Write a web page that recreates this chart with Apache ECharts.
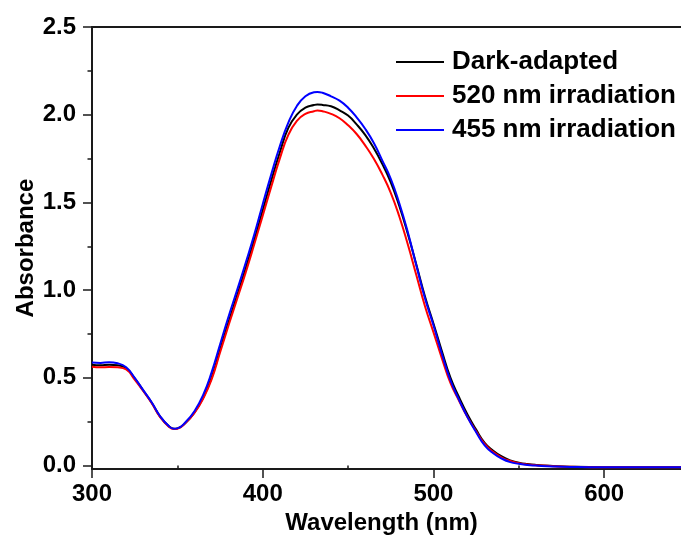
<!DOCTYPE html>
<html>
<head>
<meta charset="utf-8">
<script src="https://cdn.jsdelivr.net/npm/echarts@6/dist/echarts.min.js"></script>
<style>html,body{margin:0;padding:0;background:#fff}#c{width:681px;height:540px}</style>
</head>
<body>
<div id="c"></div>
<script>
const wavelengths = [300,305,310,315,320,325,330,335,340,345,348,350,355,360,365,370,375,380,385,390,395,400,405,410,415,420,425,430,432,435,440,445,450,455,460,465,470,475,480,485,490,495,500,505,510,515,520,525,530,535,540,545,550,555,560,570,580,600,645];
const darkAdapted = [0.575,0.572,0.575,0.572,0.555,0.497,0.428,0.358,0.278,0.224,0.21,0.212,0.246,0.303,0.385,0.50,0.66,0.82,0.97,1.125,1.285,1.455,1.625,1.785,1.925,2.0,2.04,2.055,2.058,2.056,2.048,2.025,1.995,1.945,1.885,1.81,1.72,1.615,1.48,1.32,1.145,0.965,0.81,0.65,0.50,0.39,0.29,0.205,0.13,0.085,0.052,0.03,0.017,0.009,0.004,-0.002,-0.006,-0.009,-0.01];
const irr520 = [0.564,0.56,0.562,0.56,0.548,0.49,0.425,0.355,0.275,0.222,0.208,0.21,0.245,0.30,0.38,0.49,0.645,0.80,0.95,1.10,1.26,1.425,1.59,1.75,1.885,1.965,2.005,2.02,2.024,2.02,2.005,1.98,1.94,1.89,1.825,1.75,1.66,1.555,1.42,1.26,1.085,0.91,0.76,0.61,0.47,0.37,0.275,0.195,0.123,0.078,0.046,0.026,0.014,0.006,0.002,-0.004,-0.007,-0.01,-0.01];
const irr455 = [0.587,0.585,0.589,0.583,0.56,0.50,0.43,0.36,0.28,0.225,0.21,0.212,0.25,0.31,0.40,0.53,0.69,0.85,1.0,1.155,1.315,1.49,1.66,1.82,1.955,2.05,2.105,2.128,2.13,2.125,2.105,2.08,2.04,1.985,1.92,1.84,1.74,1.635,1.495,1.33,1.14,0.955,0.80,0.635,0.485,0.375,0.275,0.19,0.115,0.07,0.04,0.02,0.01,0.003,0.0,-0.005,-0.008,-0.01,-0.01];
const seriesNames = ['Dark-adapted','520 nm irradiation','455 nm irradiation'];
const yTicks = [0,0.5,1.0,1.5,2.0,2.5];
const yMinorTicks = [0.25,0.75,1.25,1.75,2.25];
const xTicks = [300,400,500,600];
const xMinorTicks = [350,450,550];

const pair = arr => wavelengths.map((w,i)=>[w,arr[i]]);
const FONT = '"Liberation Sans", Arial, sans-serif';
const AX = '#1a1a1a';

const chart = echarts.init(document.getElementById('c'), null, {renderer:'canvas'});
chart.setOption({
  animation:false,
  backgroundColor:'#fff',
  grid:{left:92, right:0, top:27, bottom:69},
  legend:{
    data:seriesNames, orient:'vertical', left:391, top:44, padding:5,
    icon:'rect', itemWidth:48, itemHeight:2, itemGap:8,
    textStyle:{fontFamily:FONT, fontWeight:'bold', fontSize:26, color:'#000', lineHeight:25, padding:[0,0,0,3]}
  },
  xAxis:[{
    type:'value', min:300, max:645, position:'bottom',
    name:'Wavelength (nm)', nameLocation:'middle', nameGap:38,
    nameTextStyle:{fontFamily:FONT, fontWeight:'bold', fontSize:24, color:'#000', padding:[0,10,0,0]},
    axisLine:{show:true, onZero:false, lineStyle:{color:AX, width:2}},
    axisTick:{show:true, inside:false, length:9, lineStyle:{color:AX, width:1.5}, customValues:xTicks},
    axisLabel:{show:true, margin:13, fontFamily:FONT, fontWeight:'bold', fontSize:24, color:'#000', customValues:xTicks},
    splitLine:{show:false}
  },{
    type:'value', min:300, max:645, position:'bottom', gridIndex:0,
    axisLine:{show:false},
    axisTick:{show:true, inside:false, length:4.5, lineStyle:{color:AX, width:1.5}, customValues:xMinorTicks},
    axisLabel:{show:false}, splitLine:{show:false}
  },{
    type:'value', min:300, max:645, position:'top', gridIndex:0,
    axisLine:{show:true, onZero:false, lineStyle:{color:AX, width:2}},
    axisTick:{show:false}, axisLabel:{show:false}, splitLine:{show:false}
  }],
  yAxis:[{
    type:'value', min:-0.02, max:2.5, position:'left',
    name:'Absorbance', nameLocation:'middle', nameGap:54, nameRotate:90, nameMoveOverlap:false,
    nameTextStyle:{fontFamily:FONT, fontWeight:'bold', fontSize:24, color:'#000'},
    axisLine:{show:true, onZero:false, lineStyle:{color:AX, width:2}},
    axisTick:{show:true, inside:false, length:9, lineStyle:{color:AX, width:1.5}, customValues:yTicks},
    axisLabel:{show:true, margin:16, fontFamily:FONT, fontWeight:'bold', fontSize:24, color:'#000', customValues:yTicks, formatter:v=>Number(v).toFixed(1)},
    splitLine:{show:false}
  },{
    type:'value', min:-0.02, max:2.5, position:'left',
    axisLine:{show:false},
    axisTick:{show:true, inside:false, length:4.5, lineStyle:{color:AX, width:1.5}, customValues:yMinorTicks},
    axisLabel:{show:false}, splitLine:{show:false}
  }],
  series:[
    {name:seriesNames[0], type:'line', data:pair(darkAdapted), symbol:'none', smooth:0.5, lineStyle:{color:'#000000', width:2}, itemStyle:{color:'#000000'}},
    {name:seriesNames[1], type:'line', data:pair(irr520), symbol:'none', smooth:0.5, lineStyle:{color:'#ff0000', width:2}, itemStyle:{color:'#ff0000'}},
    {name:seriesNames[2], type:'line', data:pair(irr455), symbol:'none', smooth:0.5, lineStyle:{color:'#0000ff', width:2}, itemStyle:{color:'#0000ff'}}
  ]
});
</script>
</body>
</html>
